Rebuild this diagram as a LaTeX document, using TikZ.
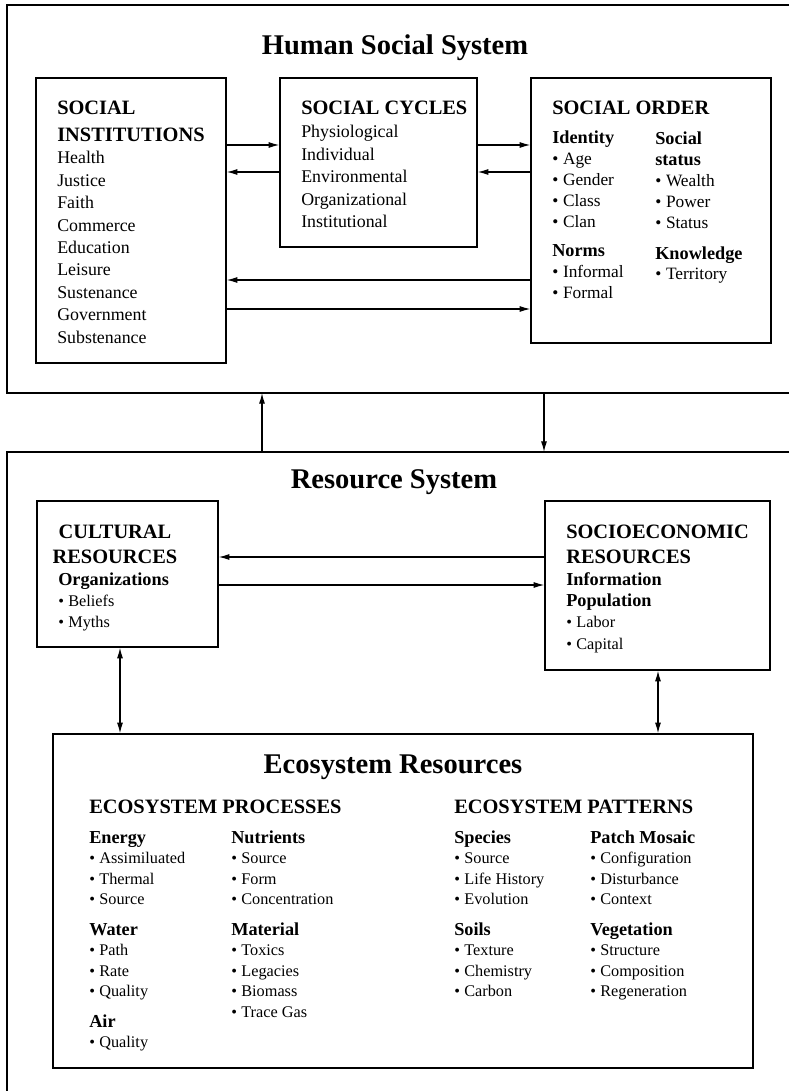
\documentclass[tikz,border=0pt]{standalone}
\usepackage{fontspec}
\setmainfont{Liberation Serif}
\usetikzlibrary{arrows.meta,fit}
\newcommand{\bul}{\makebox[0.62em][l]{\textbullet}}
\newcommand{\hd}[1]{{\fontsize{13.7}{15}\selectfont\bfseries #1}}
\newcommand{\stk}[1]{\begin{tabular}[t]{@{}l@{}}#1\end{tabular}}
\newcommand{\stkc}[1]{\begin{tabular}[t]{@{}c@{}}#1\end{tabular}}
\tikzset{
  box/.style={draw, line width=1pt, inner sep=0pt},
  arr/.style={line width=0.9pt, -{Latex[length=8pt,width=4.5pt]}},
  darr/.style={line width=0.9pt, {Latex[length=8pt,width=4.5pt]}-{Latex[length=8pt,width=4.5pt]}},
  ttl/.style={anchor=base, inner sep=0pt, font=\fontsize{21.4}{26}\selectfont\bfseries},
  boxhead/.style={anchor=base west, inner sep=0pt, font=\fontsize{15.3}{20.2}\selectfont\bfseries},
  boxheadc/.style={anchor=base, inner sep=0pt, font=\fontsize{15.3}{18.75}\selectfont\bfseries},
  lst/.style={anchor=base west, inner sep=0pt, font=\fontsize{13.4}{16.8}\selectfont},
  grp/.style={anchor=base west, inner sep=0pt, font=\fontsize{13}{15.6}\selectfont},
  ecogrp/.style={anchor=base west, inner sep=0pt, font=\fontsize{12.2}{15.4}\selectfont},
}
\begin{document}
\begin{tikzpicture}[x=0.75pt,y=-0.75pt]
  \useasboundingbox (0,0) rectangle (789,1091);
  % outer frames
  \draw[line width=1pt] (789,5) -| (7,393) -- (789,393);
  \draw[line width=1pt] (789,452) -| (7,1091);
  \coordinate (hsA) at (262,393);
  \coordinate (hsB) at (544,393);
  \coordinate (rsA) at (262,452);
  \coordinate (rsB) at (544,452);
  \node[ttl] (hstitle) at (395,55) {Human Social System};
  \node[ttl] (rstitle) at (394,488) {Resource System};

  % human social system
  \node[box, fit={(36,78) (226,363)}] (inst) {};
  \node[box, fit={(280,78) (477,247)}] (cyc) {};
  \node[box, fit={(531,78) (771,343)}] (order) {};
  \node[boxhead, font=\fontsize{15.3}{20.25}\selectfont\bfseries] (instcap) at (57,115) {\stk{SOCIAL\\INSTITUTIONS}};
  \node[lst] (instlst) at (57,164) {\stk{Health\\Justice\\Faith\\Commerce\\Education\\Leisure\\Sustenance\\Government\\Substenance}};
  \node[boxhead] (cyccap) at (301,115) {SOCIAL CYCLES};
  \node[lst] (cyclst) at (301,138) {\stk{Physiological\\Individual\\Environmental\\Organizational\\Institutional}};
  \node[boxhead] (ordercap) at (552,115) {SOCIAL ORDER};
  \node[grp] (identity) at (552,144) {\stk{\hd{Identity}\\\bul Age\\\bul Gender\\\bul Class\\\bul Clan}};
  \node[grp] (norms) at (552,257) {\stk{\hd{Norms}\\\bul Informal\\\bul Formal}};
  \node[grp] (status) at (655,145) {\stk{\hd{Social}\\\hd{status}\\\bul Wealth\\\bul Power\\\bul Status}};
  \node[grp] (knowledge) at (655,259) {\stk{\hd{Knowledge}\\\bul Territory}};
  \draw[arr] (inst.east |- 0,145) -- (cyc.west |- 0,145);
  \draw[arr] (cyc.west |- 0,172) -- (inst.east |- 0,172);
  \draw[arr] (cyc.east |- 0,145) -- (order.west |- 0,145);
  \draw[arr] (order.west |- 0,172) -- (cyc.east |- 0,172);
  \draw[arr] (order.west |- 0,280) -- (inst.east |- 0,280);
  \draw[arr] (inst.east |- 0,309) -- (order.west |- 0,309);

  % between the systems
  \draw[arr] (rsA) -- (hsA);
  \draw[arr] (hsB) -- (rsB);

  % resource system
  \node[box, fit={(37,501) (218,647)}] (cult) {};
  \node[box, fit={(545,501) (770,670)}] (socio) {};
  \node[box, fit={(53,734) (753,1068)}] (eco) {};
  \node[boxheadc] (cultcap) at (115,538) {\stkc{CULTURAL\\RESOURCES}};
  \node[ecogrp, font=\fontsize{12.2}{15.8}\selectfont] (orgs) at (58,585) {\stk{\hd{Organizations}\\\bul Beliefs\\\bul Myths}};
  \node[boxhead, font=\fontsize{15.3}{18.75}\selectfont\bfseries] (sociocap) at (566,538) {\stk{SOCIOECONOMIC\\RESOURCES}};
  \node[ecogrp, font=\fontsize{12.2}{16.1}\selectfont] (popul) at (566,585) {\stk{\hd{Information}\\\hd{Population}\\\bul Labor\\\bul Capital}};
  \draw[arr] (socio.west |- 0,557) -- (cult.east |- 0,557);
  \draw[arr] (cult.east |- 0,585) -- (socio.west |- 0,585);
  \draw[darr] (cult.south -| 120,0) -- (eco.north -| 120,0);
  \draw[darr] (socio.south -| 658,0) -- (eco.north -| 658,0);

  % ecosystem resources
  \node[ttl] (ecotitle) at (393,773) {Ecosystem Resources};
  \node[boxhead] (proc) at (89,813) {ECOSYSTEM PROCESSES};
  \node[boxhead] (patt) at (454,813) {ECOSYSTEM PATTERNS};
  \node[ecogrp] (energy) at (89,843) {\stk{\hd{Energy}\\\bul Assimiluated\\\bul Thermal\\\bul Source}};
  \node[ecogrp] (water) at (89,935) {\stk{\hd{Water}\\\bul Path\\\bul Rate\\\bul Quality}};
  \node[ecogrp] (air) at (89,1027) {\stk{\hd{Air}\\\bul Quality}};
  \node[ecogrp] (nutr) at (231,843) {\stk{\hd{Nutrients}\\\bul Source\\\bul Form\\\bul Concentration}};
  \node[ecogrp] (mater) at (231,935) {\stk{\hd{Material}\\\bul Toxics\\\bul Legacies\\\bul Biomass\\\bul Trace Gas}};
  \node[ecogrp] (species) at (454,843) {\stk{\hd{Species}\\\bul Source\\\bul Life History\\\bul Evolution}};
  \node[ecogrp] (soils) at (454,935) {\stk{\hd{Soils}\\\bul Texture\\\bul Chemistry\\\bul Carbon}};
  \node[ecogrp] (patch) at (590,843) {\stk{\hd{Patch Mosaic}\\\bul Configuration\\\bul Disturbance\\\bul Context}};
  \node[ecogrp] (veget) at (590,935) {\stk{\hd{Vegetation}\\\bul Structure\\\bul Composition\\\bul Regeneration}};
\end{tikzpicture}
\end{document}
